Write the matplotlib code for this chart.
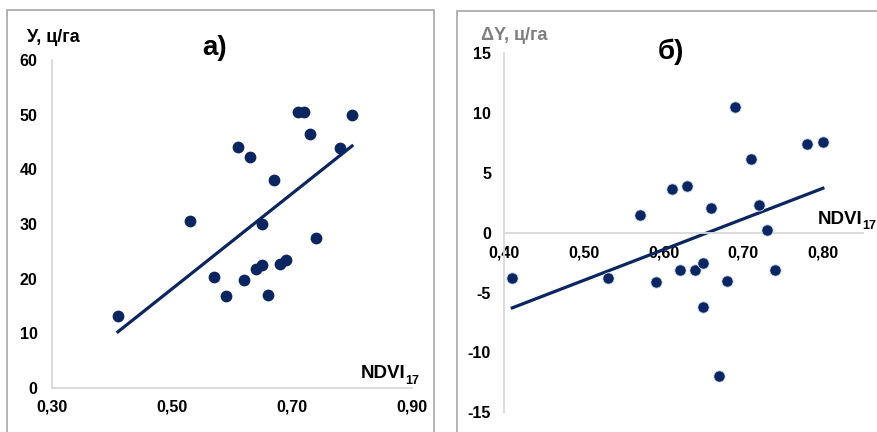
import matplotlib
matplotlib.use("Agg")
import matplotlib.pyplot as plt
from matplotlib.patches import Rectangle
from matplotlib.ticker import FuncFormatter
import numpy as np

plt.rcParams['font.family'] = ['Liberation Sans', 'DejaVu Sans']
plt.rcParams['axes.unicode_minus'] = False

# NDVI of 17th (same for both panels)
ndvi = [0.41, 0.53, 0.57, 0.59, 0.61, 0.62, 0.63, 0.64, 0.65, 0.65,
        0.66, 0.67, 0.68, 0.69, 0.71, 0.72, 0.73, 0.74, 0.78, 0.80]
# panel а) yield, ц/га
yield_a = [13.2, 30.6, 20.3, 16.8, 44.0, 19.7, 42.3, 21.7, 30.0, 22.5,
           17.1, 38.0, 22.7, 23.5, 50.5, 50.5, 46.4, 27.4, 43.9, 49.9]
# panel б) yield deviation, ц/га
ndvi_b = [0.41, 0.53, 0.57, 0.59, 0.61, 0.62, 0.63, 0.64, 0.65, 0.65,
          0.66, 0.67, 0.68, 0.69, 0.71, 0.72, 0.73, 0.74, 0.78, 0.80]
dev_b = [-3.8, -3.8, 1.45, -4.1, 3.7, -3.1, 3.9, -3.1, -2.5, -6.2,
         2.1, -12.0, -4.0, 10.5, 6.2, 2.3, 0.2, -3.15, 7.4, 7.6]

navy = '#0b2560'
axis_grey = '#d9d9d9'
W, H = 877, 432

fig = plt.figure(figsize=(W / 100, H / 100), dpi=100)


def px_axes(x0, x1, ytop, ybot):
    return fig.add_axes([x0 / W, (H - ybot) / H, (x1 - x0) / W, (ybot - ytop) / H])


comma = FuncFormatter(lambda v, p: f"{v:.2f}".replace('.', ','))
intfmt = FuncFormatter(lambda v, p: f"{v:.0f}")

# outer frames
fig.patches.append(Rectangle((7 / W, -0.1), 427 / W, (H - 10) / H + 0.1,
                             transform=fig.transFigure, fill=False,
                             edgecolor='#a6a6a6', lw=1.2))
fig.patches.append(Rectangle((457 / W, -0.1), 0.6, (H - 11) / H + 0.1,
                             transform=fig.transFigure, fill=False,
                             edgecolor='#a6a6a6', lw=1.2))

# ---- panel а)
ax = px_axes(52, 412, 60, 388)
ax.scatter(ndvi, yield_a, s=72, color=navy, zorder=3, linewidths=0)
k, b = np.polyfit(ndvi, yield_a, 1)
xs = np.array([min(ndvi), max(ndvi)])
ax.plot(xs, k * xs + b, color=navy, lw=2.3, zorder=2)
ax.set_xlim(0.30, 0.90)
ax.set_ylim(0, 60)
ax.set_xticks([0.30, 0.50, 0.70, 0.90])
ax.set_yticks(range(0, 61, 10))
ax.xaxis.set_major_formatter(comma)
ax.yaxis.set_major_formatter(intfmt)
for s in ['top', 'right']:
    ax.spines[s].set_visible(False)
for s in ['left', 'bottom']:
    ax.spines[s].set_color(axis_grey)
    ax.spines[s].set_linewidth(1.3)
ax.tick_params(length=0, labelsize=11.5)
ax.tick_params(axis='x', pad=8.5)
ax.tick_params(axis='y', pad=10.5)
for t in ax.get_xticklabels() + ax.get_yticklabels():
    t.set_fontweight('bold')
ax.patch.set_alpha(0)

fig.text(27 / W, 1 - 37 / H, 'У, ц/га', fontsize=13, fontweight='bold', va='center')
fig.text(215 / W, 1 - 48 / H, 'а)', fontsize=20, fontweight='bold', ha='center', va='center')
fig.text(361 / W, 1 - 374 / H, 'NDVI', fontsize=13.5, fontweight='bold', va='center')
fig.text(405 / W, 1 - 381 / H, '17', fontsize=9, fontweight='bold', va='center')

# ---- panel б)
ax2 = px_axes(504.3, 862.7, 53.3, 412.3)
ax2.scatter(ndvi_b, dev_b, s=66, color=navy, zorder=3,
            edgecolors='#c9d8f0', linewidths=0.6)
k2, b2 = np.polyfit(ndvi_b, dev_b, 1)
xs2 = np.array([min(ndvi_b), max(ndvi_b)])
ax2.plot(xs2, k2 * xs2 + b2, color=navy, lw=2.3, zorder=2)
ax2.set_xlim(0.40, 0.85)
ax2.set_ylim(-15, 15)
ax2.set_xticks([0.40, 0.50, 0.60, 0.70, 0.80])
ax2.set_yticks(range(-15, 16, 5))
ax2.xaxis.set_major_formatter(comma)
ax2.yaxis.set_major_formatter(intfmt)
for s in ['top', 'right']:
    ax2.spines[s].set_visible(False)
ax2.spines['bottom'].set_position(('data', 0))
for s in ['left', 'bottom']:
    ax2.spines[s].set_color(axis_grey)
    ax2.spines[s].set_linewidth(1.3)
ax2.tick_params(length=0, labelsize=11.5)
ax2.tick_params(axis='x', pad=9)
ax2.tick_params(axis='y', pad=9.5)
for t in ax2.get_xticklabels() + ax2.get_yticklabels():
    t.set_fontweight('bold')
ax2.patch.set_alpha(0)

fig.text(481 / W, 1 - 35 / H, 'ΔY, ц/га', fontsize=13, fontweight='bold',
         color='#7f7f7f', va='center')
fig.text(671 / W, 1 - 52 / H, 'б)', fontsize=20, fontweight='bold', ha='center', va='center')
fig.text(818 / W, 1 - 219 / H, 'NDVI', fontsize=13.5, fontweight='bold', va='center')
fig.text(862 / W, 1 - 226 / H, '17', fontsize=9, fontweight='bold', va='center')

fig.savefig('out.png', dpi=100)
